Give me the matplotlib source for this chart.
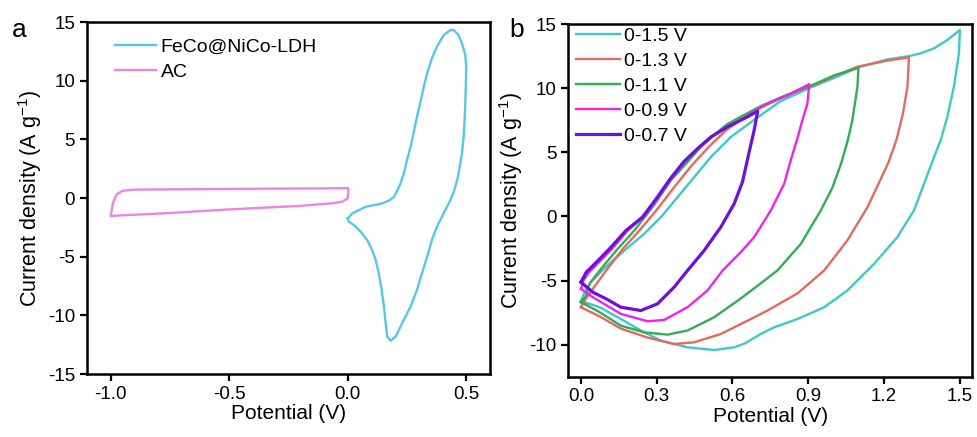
import matplotlib
matplotlib.use("Agg")
import matplotlib.pyplot as plt

plt.rcParams['font.family'] = ['Liberation Sans', 'DejaVu Sans']
plt.rcParams['mathtext.fontset'] = 'custom'
plt.rcParams['mathtext.rm'] = 'Liberation Sans'
plt.rcParams['axes.unicode_minus'] = False

# panel a: FeCo@NiCo-LDH (positive) and AC (negative) at same scan rate
ldh_v = [0.0, 0.02, 0.076, 0.146, 0.175, 0.195, 0.208, 0.223, 0.237, 0.25, 0.265, 0.279,
         0.292, 0.307, 0.321, 0.335, 0.355, 0.376, 0.405, 0.433, 0.447, 0.468, 0.484,
         0.496, 0.5, 0.498, 0.496, 0.493, 0.489, 0.482, 0.475, 0.465, 0.454, 0.445,
         0.433, 0.412, 0.376, 0.355, 0.335, 0.313, 0.292, 0.265, 0.229, 0.202, 0.181,
         0.167, 0.16, 0.153, 0.143, 0.131, 0.118, 0.103, 0.082, 0.055, 0.026, 0.005, 0.0]
ldh_j = [-1.73, -1.3, -0.74, -0.45, -0.2, 0.1, 0.6, 1.25, 2.1, 3.24, 4.37, 5.65,
         6.93, 8.21, 9.49, 10.63, 11.9, 12.9, 13.89, 14.32, 14.32, 13.89, 13.04,
         12.19, 11.19, 9.49, 8.07, 6.65, 5.22, 3.81, 2.96, 1.82, 0.96, 0.4,
         -0.17, -1.02, -2.45, -3.58, -5.0, -6.42, -7.84, -9.26, -10.68, -11.82, -12.16,
         -11.82, -10.68, -9.26, -7.84, -6.42, -5.28, -4.43, -3.58, -2.87, -2.3, -2.02, -1.73]

ac_v = [0.0, -0.35, -0.9, -0.95, -0.975, -0.99, -1.0, -0.766, -0.486, -0.205,
        -0.065, -0.022, 0.0, 0.003, 0.0]
ac_j = [0.84, 0.8, 0.72, 0.62, 0.3, -0.4, -1.52, -1.29, -0.95, -0.67,
        -0.44, -0.3, -0.01, 0.7, 0.84]

# panel b: asymmetric device, different voltage windows
win_labels = ['0-1.5 V', '0-1.3 V', '0-1.1 V', '0-0.9 V', '0-0.7 V']
win_colors = ['#3ec8c8', '#e8675e', '#2fae55', '#ee22ee', '#6a12dc']

v15 = [0.0, 0.015, 0.04, 0.09, 0.172, 0.251, 0.317, 0.383, 0.449, 0.515, 0.594, 0.693,
       0.792, 0.904, 1.003, 1.095, 1.214, 1.299, 1.345, 1.398, 1.451, 1.501,
       1.497, 1.477, 1.451, 1.425, 1.398, 1.359, 1.319, 1.253, 1.161, 1.055, 0.963,
       0.858, 0.765, 0.712, 0.65, 0.607, 0.528, 0.422, 0.317, 0.237, 0.158, 0.074, 0.0]
j15 = [-6.6, -5.9, -5.1, -4.1, -2.66, -1.35, -0.05, 1.51, 3.07, 4.64, 6.2, 7.63,
       9.0, 10.0, 10.8, 11.6, 12.24, 12.5, 12.71, 13.1, 13.75, 14.53,
       12.71, 10.1, 7.76, 5.94, 4.6, 2.55, 0.47, -1.62, -3.7, -5.78, -7.09,
       -8.0, -8.65, -9.17, -9.9, -10.21, -10.42, -10.21, -9.69, -8.9, -8.0, -7.08, -6.6]

v13 = [0.0, 0.02, 0.047, 0.1, 0.166, 0.232, 0.3, 0.37, 0.44, 0.51, 0.58, 0.65, 0.712,
       0.8, 0.9, 1.0, 1.095, 1.214, 1.299,
       1.293, 1.275, 1.25, 1.22, 1.187, 1.135, 1.055, 0.963, 0.858, 0.739,
       0.66, 0.554, 0.448, 0.369, 0.264, 0.158, 0.074, 0.0]
j13 = [-7.08, -6.4, -5.65, -4.22, -2.53, -1.09, 0.5, 2.3, 4.0, 5.5, 6.8, 7.75, 8.5,
       9.3, 10.05, 10.9, 11.67, 12.15, 12.4,
       10.1, 8.0, 6.0, 4.3, 2.9, 0.73, -1.88, -4.22, -6.0, -7.34,
       -8.13, -9.17, -9.82, -9.95, -9.45, -8.75, -7.8, -7.08]

v11 = [0.0, 0.021, 0.034, 0.074, 0.14, 0.212, 0.29, 0.356, 0.42, 0.475, 0.53, 0.58,
       0.65, 0.712, 0.8, 0.9, 1.003, 1.099,
       1.095, 1.075, 1.055, 1.03, 0.995, 0.95, 0.871, 0.778, 0.70, 0.633, 0.528,
       0.422, 0.343, 0.25, 0.158, 0.074, 0.0]
j11 = [-6.69, -6.17, -5.26, -4.22, -2.66, -1.09, 0.9, 2.81, 4.2, 5.42, 6.4, 7.2,
       7.95, 8.6, 9.35, 10.1, 11.0, 11.59,
       10.1, 7.5, 5.8, 4.1, 2.2, 0.47, -2.14, -4.22, -5.4, -6.4, -7.86,
       -8.9, -9.22, -9.04, -8.52, -7.47, -6.69]

v09 = [0.0, 0.01, 0.03, 0.07, 0.12, 0.185, 0.25, 0.307, 0.36, 0.413, 0.466, 0.52,
       0.585, 0.65, 0.712, 0.752, 0.818, 0.904,
       0.897, 0.877, 0.855, 0.831, 0.805, 0.752, 0.686, 0.633, 0.561, 0.501, 0.422,
       0.33, 0.264, 0.158, 0.047, 0.0]
j09 = [-5.65, -5.0, -4.4, -3.6, -2.6, -1.1, 0.0, 1.5, 3.0, 4.3, 5.3, 6.25,
       7.05, 7.7, 8.5, 8.9, 9.45, 10.31,
       8.8, 7.5, 5.94, 4.38, 2.55, 0.47, -1.62, -2.79, -4.22, -5.78, -7.08,
       -8.07, -8.18, -7.6, -6.3, -5.65]

v07 = [0.0, 0.021, 0.061, 0.113, 0.179, 0.244, 0.303, 0.356, 0.409, 0.462, 0.515,
       0.58, 0.646, 0.70,
       0.686, 0.666, 0.64, 0.607, 0.554, 0.488, 0.422, 0.369, 0.303, 0.237, 0.158,
       0.1, 0.047, 0.0]
j07 = [-5.13, -4.35, -3.57, -2.53, -1.09, -0.05, 1.51, 3.0, 4.3, 5.29, 6.2,
       6.98, 7.63, 8.2,
       6.72, 5.0, 2.7, 0.99, -0.83, -2.66, -4.22, -5.52, -6.82, -7.34, -7.08,
       -6.43, -5.91, -5.13]

win_v = [v15, v13, v11, v09, v07]
win_j = [j15, j13, j11, j09, j07]

fig = plt.figure(figsize=(9.77, 4.37), dpi=100)
ax1 = fig.add_axes([0.089, 0.144, 0.4125, 0.8055])
ax2 = fig.add_axes([0.5817, 0.138, 0.4135, 0.807])

ax1.plot(ldh_v, ldh_j, color='#55c8ea', lw=1.7, label='FeCo@NiCo-LDH')
ax1.plot(ac_v, ac_j, color='#ee82e6', lw=1.7, label='AC')
ax1.set_xlim(-1.1, 0.6)
ax1.set_ylim(-15, 15)
ax1.set_xticks([-1.0, -0.5, 0.0, 0.5])
ax1.set_xticklabels(['-1.0', '-0.5', '0.0', '0.5'])
ax1.set_yticks([-15, -10, -5, 0, 5, 10, 15])
ax1.legend(loc='upper left', bbox_to_anchor=(0.07, 0.955), frameon=False,
           fontsize=14, handlelength=2.1, handletextpad=0.25,
           labelspacing=0.4, borderpad=0, borderaxespad=0)

for v, j, lab, col in zip(win_v, win_j, win_labels, win_colors):
    lw = 2.3 if lab == '0-0.7 V' else 1.7
    ax2.plot(v, j, color=col, lw=lw, label=lab)
ax2.set_xlim(-0.05, 1.55)
ax2.set_ylim(-12.5, 15)
ax2.set_xticks([0.0, 0.3, 0.6, 0.9, 1.2, 1.5])
ax2.set_xticklabels(['0.0', '0.3', '0.6', '0.9', '1.2', '1.5'])
ax2.set_yticks([-10, -5, 0, 5, 10, 15])
ax2.legend(loc='upper left', bbox_to_anchor=(0.018, 0.99), frameon=False,
           fontsize=14, handlelength=2.3, handletextpad=0.2,
           labelspacing=0.38, borderpad=0, borderaxespad=0)

for ax in (ax1, ax2):
    for s in ax.spines.values():
        s.set_linewidth(1.8)
    ax.tick_params(direction='out', length=5, width=1.6, labelsize=13.5, pad=3.5,
                   top=False, right=False)
    ax.set_xlabel('Potential (V)', fontsize=15, labelpad=1)
    ax.set_ylabel('Current density (A g$^{\\mathregular{-1}}$)', fontsize=15.5, labelpad=3)

fig.text(12 / 977, 1 - 37 / 437, 'a', fontsize=19, va='baseline')
fig.text(509 / 977, 1 - 37 / 437, 'b', fontsize=19, va='baseline')

fig.savefig('out.png', dpi=100)
